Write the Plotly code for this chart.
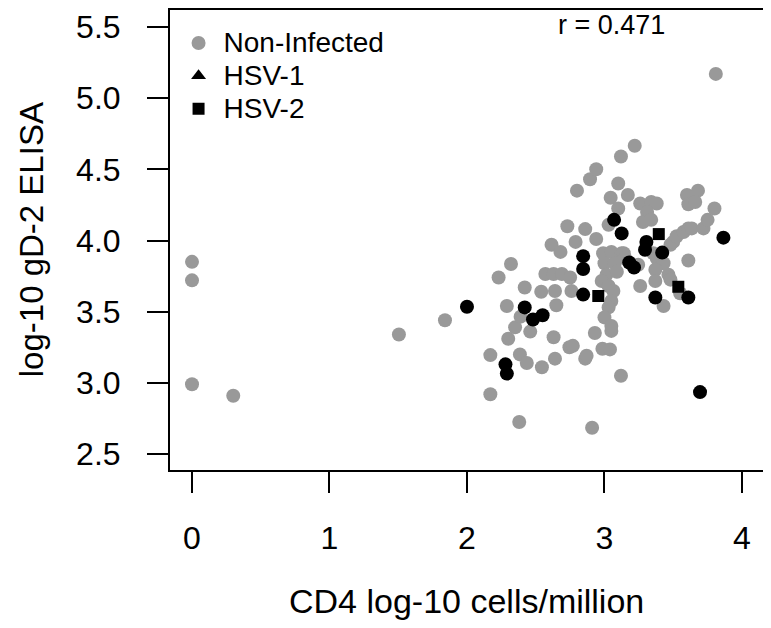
import plotly.graph_objects as go

# Non-infected (grey)
non_x = [0, 0, 0, 0.3, 1.505, 1.84, 2.17, 2.17, 2.23, 2.32, 2.29, 2.3, 2.35, 2.385,
         2.39, 2.42, 2.435, 2.46, 2.38, 2.54, 2.545, 2.57, 2.63, 2.69, 2.615, 2.68,
         2.64, 2.65, 2.63, 2.64, 2.73, 2.79, 2.75, 2.76, 2.745, 2.77, 2.86, 2.86,
         2.94, 2.93, 2.91, 2.985, 3.04, 3.05, 3.12, 2.80, 2.895, 2.94, 3.10, 3.12,
         3.22, 3.045, 3.17, 3.10, 3.03, 3.26, 3.34, 3.38, 3.31, 3.28, 3.34, 2.99,
         3.05, 3.125, 3.0, 3.075, 3.015, 3.09, 2.98, 3.03, 3.065, 3.05, 3.03, 3.0,
         3.05, 2.87, 3.14, 3.15, 3.245, 3.355, 3.38, 3.405, 3.43, 3.37, 3.465, 3.48,
         3.37, 3.26, 3.55, 3.43, 3.61, 3.48, 3.50, 3.525, 3.575, 3.61, 3.635, 3.72,
         3.75, 3.80, 3.60, 3.68, 3.61, 3.66, 3.81]
non_y = [3.85, 3.72, 2.99, 2.91, 3.34, 3.44, 2.92, 3.195, 3.74, 3.835, 3.54, 3.31, 3.39, 3.20,
         3.465, 3.67, 3.14, 3.36, 2.725, 3.64, 3.11, 3.765, 3.765, 3.765, 3.97, 3.92,
         3.645, 3.545, 3.32, 3.17, 4.10, 3.99, 3.74, 3.645, 3.25, 3.26, 3.17, 4.08,
         4.01, 3.35, 2.685, 3.24, 3.235, 3.365, 3.05, 4.35, 4.43, 4.50, 4.40, 4.59,
         4.665, 4.30, 4.32, 4.225, 4.11, 4.26, 4.27, 4.26, 4.20, 4.13, 4.145, 3.91,
         3.92, 3.91, 3.84, 3.84, 3.76, 3.78, 3.715, 3.68, 3.645, 3.575, 3.53, 3.46,
         3.40, 3.19, 3.91, 3.875, 3.83, 3.91, 3.875, 3.84, 3.84, 3.795, 3.76, 3.725,
         3.715, 3.68, 3.63, 3.54, 3.86, 3.97, 3.99, 4.03, 4.06, 4.085, 4.085, 4.085,
         4.145, 4.225, 4.32, 4.35, 4.255, 4.27, 5.17]

# HSV-1 (black)
hsv1_x = [2.0, 2.28, 2.29, 2.42, 2.48, 2.55, 2.845, 2.845, 2.845, 3.07, 3.125,
          3.18, 3.215, 3.305, 3.295, 3.42, 3.37, 3.61, 3.865, 3.695]
hsv1_y = [3.535, 3.13, 3.065, 3.53, 3.445, 3.475, 3.89, 3.80, 3.62, 4.145, 4.05,
          3.845, 3.81, 3.99, 3.935, 3.915, 3.60, 3.60, 4.02, 2.935]

# HSV-2 (black squares)
hsv2_x = [2.955, 3.395, 3.537]
hsv2_y = [3.61, 4.045, 3.675]

x_ticks = [0, 1, 2, 3, 4]
y_ticks = [2.5, 3.0, 3.5, 4.0, 4.5, 5.0, 5.5]
r_text = "r = 0.471"

grey = "#999999"
font = "Liberation Sans, Arial, sans-serif"


def leg(name):
    # bigger text than the legend font so the rows stay tight
    return '<span style="font-size:28px">' + name + "</span>"


fig = go.Figure()
fig.add_trace(go.Scatter(x=non_x, y=non_y, mode="markers", name=leg("Non-Infected"),
                         marker=dict(color=grey, size=14, symbol="circle")))
fig.add_trace(go.Scatter(x=hsv1_x, y=hsv1_y, mode="markers", showlegend=False,
                         marker=dict(color="black", size=14, symbol="circle")))
# legend entry for HSV-1 uses a triangle, as in the original
fig.add_trace(go.Scatter(x=[None], y=[None], mode="markers", name=leg("HSV-1"),
                         marker=dict(color="black", size=13, symbol="triangle-up")))
fig.add_trace(go.Scatter(x=hsv2_x, y=hsv2_y, mode="markers", name=leg("HSV-2"),
                         marker=dict(color="black", size=12, symbol="square")))

axis_common = dict(showgrid=False, zeroline=False, showline=True, mirror=True,
                   linecolor="black", linewidth=2, ticks="outside", ticklen=21,
                   tickwidth=2, tickcolor="black",
                   tickfont=dict(family=font, size=32, color="black"))

fig.update_xaxes(range=[-0.16, 4.153], tickvals=x_ticks, ticklabelstandoff=18,
                 **axis_common)
fig.update_yaxes(range=[2.388, 5.619], tickvals=y_ticks, tickformat=".1f",
                 ticklabelstandoff=20, **axis_common)

fig.add_annotation(text=r_text, xref="paper", yref="paper", x=0.744, y=0.9675,
                   xanchor="center", yanchor="middle", showarrow=False,
                   font=dict(family=font, size=27, color="black"))
fig.add_annotation(text="CD4 log-10 cells/million", xref="paper", yref="paper",
                   x=0.5, y=-0.2857, xanchor="center", yanchor="middle",
                   showarrow=False, font=dict(family=font, size=34, color="black"))
fig.add_annotation(text="log-10 gD-2 ELISA", xref="paper", yref="paper",
                   x=-0.234, y=0.5, xanchor="center", yanchor="middle",
                   textangle=-90, showarrow=False,
                   font=dict(family=font, size=33, color="black"))

# page body adds 8px, so the figure is 8px smaller than the window
fig.update_layout(
    width=763, height=620,
    margin=dict(l=162, r=8, t=0, b=158),
    plot_bgcolor="white", paper_bgcolor="white",
    legend=dict(x=0.006, y=0.975, xanchor="left", yanchor="top",
                bgcolor="rgba(0,0,0,0)", tracegroupgap=0, itemwidth=40,
                font=dict(family=font, size=23, color="black")),
)

fig.write_html("out.html")
